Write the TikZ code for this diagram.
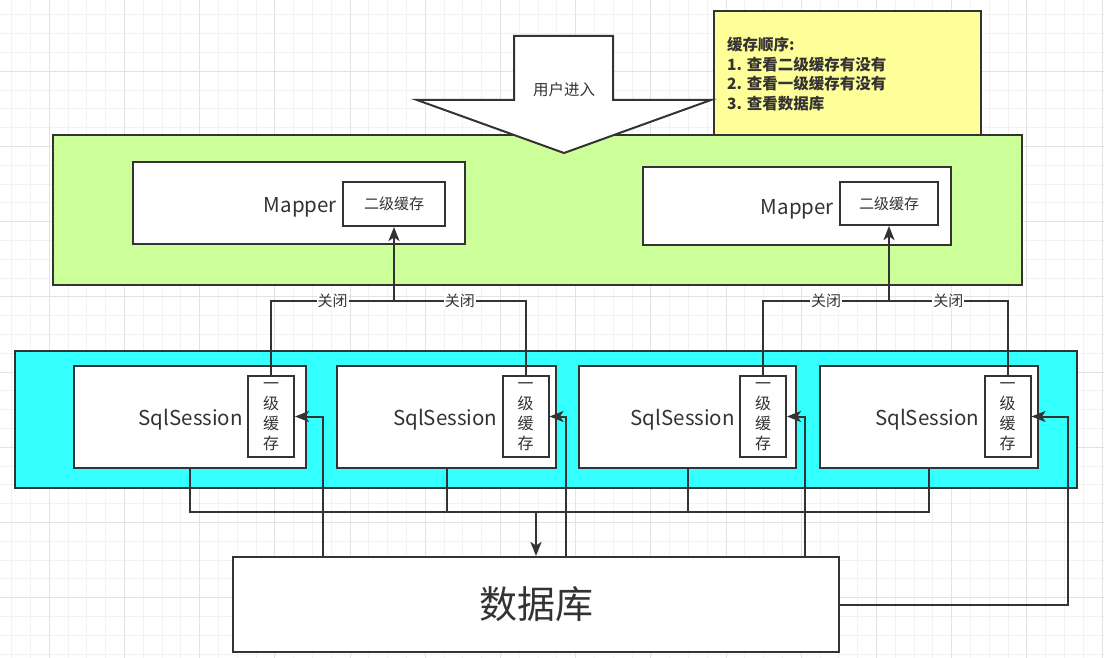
\documentclass[tikz,border=0pt]{standalone}
\usepackage{fontspec}
\setmainfont{Noto Sans CJK SC}
\usepackage{xcolor}
\definecolor{ink}{HTML}{333333}
\definecolor{lime}{HTML}{CCFF99}
\definecolor{aqua}{HTML}{33FFFF}
\definecolor{note}{HTML}{FFFF99}
\definecolor{gridlo}{HTML}{F2F2F2}
\definecolor{gridhi}{HTML}{E2E2E2}
\usetikzlibrary{arrows.meta,positioning,calc}
\tikzset{
  >={Stealth[length=14pt,width=11pt,inset=3.5pt]},
  box/.style={draw=ink,line width=2pt,fill=white,inner sep=0pt,text=ink},
  layer/.style={box,fill=lime},
  sesslayer/.style={box,fill=aqua},
  notebox/.style={box,fill=note},
  cachebox/.style={box,minimum width=46pt,minimum height=81pt,align=center,font=\fontsize{16}{20}\selectfont},
  l2box/.style={box,font=\fontsize{15}{17}\selectfont},
  sessbox/.style={box,minimum height=102pt},
  txt/.style={text=ink,inner sep=0pt,yshift=-3pt,font=\fontsize{20.5}{22}\selectfont},
  lbl/.style={text=ink,fill=white,inner sep=1pt,font=\fontsize{15}{16}\selectfont},
  ln/.style={draw=ink,line width=2pt},
  arr/.style={->,draw=ink,line width=2pt},
}

\begin{document}
\begin{tikzpicture}[x=1pt,y=-1pt]
\useasboundingbox (0,0) rectangle (1104,658);
\fill[white] (0,0) rectangle (1104,658);
% background grid
\foreach \i in {-3,...,56} \draw[gridlo,line width=1pt] ({49.3+18.8*\i},0) -- ++(0,658);
\foreach \j in {-4,...,31} \draw[gridlo,line width=1pt] (0,{71.3+18.8*\j}) -- ++(1104,0);
\foreach \i in {-1,...,14} \draw[gridhi,line width=1pt] ({49.3+75.2*\i},0) -- ++(0,658);
\foreach \j in {-1,...,8} \draw[gridhi,line width=1pt] (0,{71.3+75.2*\j}) -- ++(1104,0);

% note and mapper layer
\node[notebox,minimum width=267pt,minimum height=124pt] (note) at (847.5,73) {};
\node[anchor=west,align=left,text=ink,inner sep=0pt,font=\bfseries\fontsize{15.5}{19.5}\selectfont] (notetxt) at (727,74) {缓存顺序:\\1. 查看二级缓存有没有\\2. 查看一级缓存有没有\\3. 查看数据库};
\node[layer,minimum width=969pt,minimum height=150pt] (mapperlayer) at (537.5,210) {};

% user entry arrow
\draw[ln,fill=white,line join=miter] (514,36) -- (613,36) -- (613,100) -- (711,100) -- (564,153) -- (417,100) -- (514,100) -- cycle;
\node[text=ink,font=\fontsize{15.5}{17}\selectfont] (entry) at (564,90) {用户进入};

% mappers
\node[box,minimum width=332pt,minimum height=82pt] (mapA) at (299,203) {};
\node[l2box,minimum width=102pt,minimum height=44pt] (l2a) at (394,204) {二级缓存};
\node[txt,left=5pt of l2a] (mapAtxt) {Mapper};
\node[box,minimum width=308pt,minimum height=78pt] (mapB) at (797,206) {};
\node[l2box,minimum width=98pt,minimum height=43pt] (l2b) at (889,203.5) {二级缓存};
\node[txt,left=5pt of l2b,yshift=-3pt] (mapBtxt) {Mapper};

% sqlsession layer
\node[sesslayer,minimum width=1061.5pt,minimum height=137pt] (sesslayer) at (545.75,419.5) {};
\node[sessbox,minimum width=232pt] (s1) at (190,417) {};
\node[sessbox,minimum width=219pt] (s2) at (446.5,417) {};
\node[sessbox,minimum width=217pt] (s3) at (687.5,417) {};
\node[sessbox,minimum width=218pt] (s4) at (929,417) {};
\foreach \k/\x in {1/271,2/525.5,3/763,4/1007.5}{
  \node[cachebox] (l1\k) at (\x,416.5) {一\\级\\缓\\存};
  \node[txt,left=4pt of l1\k] (s\k txt) {SqlSession};
}

% database
\node[box,minimum width=606pt,minimum height=95pt,font=\fontsize{38}{40}\selectfont] (db) at (536,604.5) {数据库};

% close -> second level cache
\coordinate (jA) at (l2a.south |- 0,301);
\coordinate (jB) at (l2b.south |- 0,301);
\draw[ln] (l11.north) |- node[lbl,pos=0.75] {关闭} (jA);
\draw[ln] (l12.north) |- node[lbl,pos=0.75] {关闭} (jA);
\draw[arr] (jA) -- (l2a.south);
\draw[ln] (l13.north) |- node[lbl,pos=0.75] {关闭} (jB);
\draw[ln] (l14.north) |- node[lbl,pos=0.75] {关闭} (jB);
\draw[arr] (jB) -- (l2b.south);

% sessions -> database
\coordinate (bus) at (db.north |- 0,512);
\draw[ln] (s1.south) -- (s1.south |- bus) -| (s4.south);
\draw[ln] (s2.south) -- (s2.south |- bus);
\draw[ln] (s3.south) -- (s3.south |- bus);
\draw[arr] (bus) -- (db.north);

% database -> first level cache
\draw[arr] ([xshift=91pt]db.north west) |- (l11.east);
\draw[arr] ([xshift=334pt]db.north west) |- (l12.east);
\draw[arr] ([xshift=573pt]db.north west) |- (l13.east);
\draw[arr] (db.east) -- ++(228,0) |- (l14.east);
\end{tikzpicture}
\end{document}
